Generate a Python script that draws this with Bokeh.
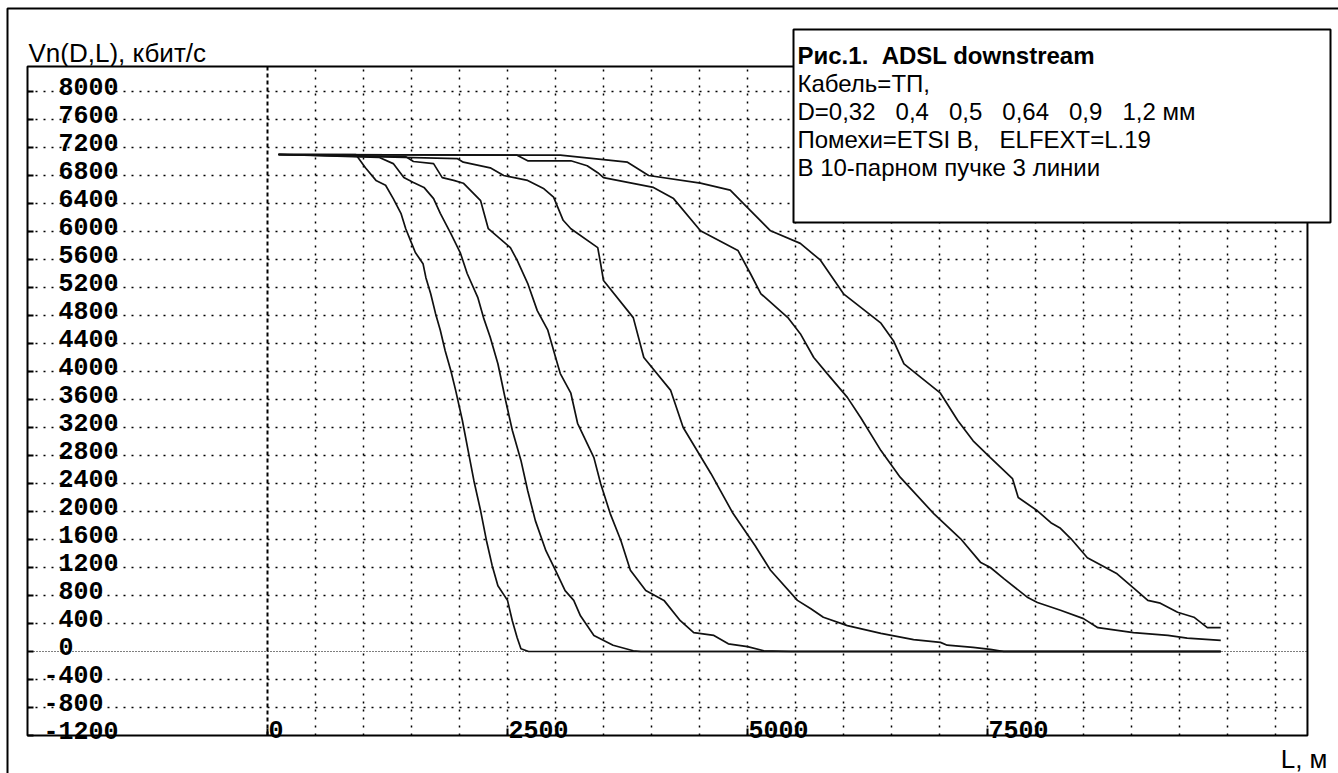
from bokeh.plotting import figure
from bokeh.models import Range1d, ColumnDataSource
from bokeh.core.properties import value
from bokeh.embed import file_html
from bokeh.resources import INLINE

# ---------------- data ----------------
DIAMETERS = ["0,32", "0,4", "0,5", "0,64", "0,9", "1,2"]

L_032 = [115, 920, 1020, 1130, 1230, 1310, 1390, 1440, 1490, 1540, 1620, 1650, 1700, 1750, 1800,
         1850, 1910, 1960, 2030, 2090, 2150, 2220, 2280, 2340, 2400, 2500, 2550, 2600, 2640, 2720, 9930]
V_032 = [7100, 7100, 6910, 6730, 6660, 6470, 6260, 6040, 5870, 5700, 5540, 5340, 5110, 4830, 4590,
         4300, 4010, 3730, 3300, 2870, 2440, 2010, 1590, 1230, 940, 730, 440, 200, 40, 0, 0]

L_040 = [115, 1160, 1310, 1420, 1520, 1630, 1730, 1800, 1910, 2010, 2080, 2190, 2250, 2320, 2400,
         2480, 2550, 2640, 2710, 2790, 2900, 3000, 3100, 3190, 3260, 3400, 3600, 3810, 3890, 9930]
V_040 = [7100, 7060, 6970, 6770, 6700, 6630, 6470, 6260, 5970, 5690, 5400, 5060, 4770, 4490, 4110,
         3590, 3160, 2730, 2300, 1870, 1440, 1160, 870, 730, 510, 230, 90, 10, 0, 0]

L_050 = [115, 1440, 1520, 1730, 1820, 1940, 2040, 2220, 2300, 2530, 2600, 2710, 2810, 2920, 3020,
         3050, 3160, 3230, 3400, 3470, 3570, 3680, 3780, 3940, 4130, 4300, 4440, 4650, 4800, 5000,
         5170, 5450, 9930]
V_050 = [7100, 7070, 7000, 6970, 6770, 6730, 6690, 6440, 6040, 5770, 5590, 5260, 4870, 4590, 4110,
         3970, 3690, 3260, 2770, 2400, 1970, 1590, 1160, 870, 730, 440, 270, 230, 110, 70,
         10, 0, 0]

L_064 = [115, 1980, 2040, 2320, 2460, 2710, 2880, 2980, 3080, 3160, 3440, 3470, 3500, 3810, 3920,
         4200, 4330, 4620, 4850, 5080, 5240, 5520, 5660, 5790, 6040, 6390, 6730, 7010, 7080, 7350,
         7530, 7670, 9930]
V_064 = [7100, 7040, 6990, 6910, 6800, 6730, 6610, 6490, 6160, 6040, 5770, 5540, 5300, 4770, 4200,
         3730, 3200, 2540, 1970, 1510, 1160, 730, 610, 490, 370, 260, 170, 130, 90, 60,
         30, 0, 0]

L_090 = [115, 2600, 2710, 3160, 3330, 3440, 3500, 4020, 4230, 4510, 4900, 5030, 5140, 5420, 5550,
         5690, 5830, 6040, 6180, 6390, 6590, 6940, 7220, 7430, 7530, 7670, 7920, 8020, 8260, 8500,
         8650, 9020, 9380, 9580, 9930]
V_090 = [7100, 7090, 7010, 7010, 6940, 6840, 6770, 6630, 6470, 6010, 5730, 5400, 5110, 4770, 4540,
         4200, 3970, 3630, 3340, 2870, 2490, 1970, 1610, 1270, 1200, 1040, 770, 700, 590, 470,
         340, 270, 230, 190, 160]

L_120 = [115, 3050, 3750, 3970, 4510, 4820, 5000, 5240, 5550, 5760, 6000, 6390, 6520, 6630, 7010,
         7190, 7350, 7530, 7760, 7820, 8020, 8160, 8260, 8370, 8540, 8850, 9020, 9170, 9300, 9480,
         9650, 9790, 9930]
V_120 = [7100, 7090, 6990, 6800, 6690, 6590, 6340, 6010, 5830, 5590, 5110, 4690, 4440, 4110, 3690,
         3300, 3010, 2770, 2470, 2200, 2010, 1840, 1760, 1610, 1340, 1110, 910, 730, 690, 560,
         490, 340, 340]

Y_TICKS = [-1200, -800, -400, 0, 400, 800, 1200, 1600, 2000, 2400, 2800, 3200, 3600,
           4000, 4400, 4800, 5200, 5600, 6000, 6400, 6800, 7200, 7600, 8000]
X_TICKS = [0, 2500, 5000, 7500]
X_GRID = [0, 500, 1000, 1500, 2000, 2500, 3000, 3500, 4000, 4500, 5000, 5500, 6000,
          6500, 7000, 7500, 8000, 8500, 9000, 9500, 10000, 10500]
X_LIMITS = (-2500, 10833)
Y_LIMITS = (-1200, 8357)

Y_TITLE = "Vn(D,L), кбит/с"
X_TITLE = "L, м"
NB = "\u00a0"
GAP = NB * 3
INFO_TITLE = "Рис.1." + NB + NB + "ADSL downstream"
INFO_LINES = [
    "Кабель=ТП,",
    "D=0,32" + GAP + "0,4" + GAP + "0,5" + GAP + "0,64" + GAP + "0,9" + GAP + "1,2 мм",
    "Помехи=ETSI B," + GAP + "ELFEXT=L.19",
    "В 10-парном пучке 3 линии",
]

# ---------------- layout ----------------
W, H = 1338, 773
SX, SY = 0.096, 0.07          # px per metre, px per kbit/s
ORIGIN_PX = (267, 651)        # canvas position of (0, 0)
xs = -ORIGIN_PX[0] / SX
ys = -(H - ORIGIN_PX[1]) / SY


def dx(px):
    return xs + px / SX


def dy(py):
    return ys + (H - py) / SY


p = figure(width=W, height=H,
           x_range=Range1d(xs, xs + W / SX), y_range=Range1d(ys, ys + H / SY),
           output_backend="svg", toolbar_location=None,
           x_axis_location=None, y_axis_location=None,
           min_border=0, outline_line_color=None,
           background_fill_color="white", border_fill_color="white")
p.xgrid.visible = False
p.ygrid.visible = False

INK = "black"
SANS = value("Liberation Sans")
MONO = value("Liberation Mono")
FS_TITLE = value("26px")
FS_BOX = value("24px")

# outer border (its right and bottom edges lie outside the picture)
p.quad(left=[dx(7)], right=[dx(1346)], top=[dy(8)], bottom=[dy(782)],
       fill_color=None, line_color=INK, line_width=2)

# grid
hy = [t for t in Y_TICKS if t not in (0, Y_LIMITS[0])]
p.segment(x0=[X_LIMITS[0]] * len(hy), x1=[X_LIMITS[1]] * len(hy), y0=hy, y1=hy,
          line_color=INK, line_width=1.5, line_dash="2 6")
vx = [t for t in X_GRID if t != 0]
p.segment(x0=vx, x1=vx, y0=[Y_LIMITS[0]] * len(vx), y1=[Y_LIMITS[1]] * len(vx),
          line_color=INK, line_width=1.5, line_dash="2 6")
p.segment(x0=[X_LIMITS[0]], x1=[X_LIMITS[1]], y0=[0], y1=[0],
          line_color=INK, line_width=1.2, line_dash="1 2")
p.segment(x0=[0], x1=[0], y0=[Y_LIMITS[0]], y1=[Y_LIMITS[1]],
          line_color=INK, line_width=2, line_dash="4 3")

# curves
for Ls, Vs in [(L_032, V_032), (L_040, V_040), (L_050, V_050),
               (L_064, V_064), (L_090, V_090), (L_120, V_120)]:
    p.line(Ls, Vs, line_color="#111111", line_width=1.7)

# plot frame
p.quad(left=[X_LIMITS[0]], right=[X_LIMITS[1]], bottom=[Y_LIMITS[0]], top=[Y_LIMITS[1]],
       fill_color=None, line_color=INK, line_width=2)

# ticks
p.ray(x=[X_LIMITS[0]] * len(Y_TICKS), y=Y_TICKS, length=6, length_units="screen",
      angle=0, line_color=INK, line_width=2)
p.ray(x=X_TICKS, y=[Y_LIMITS[0]] * len(X_TICKS), length=7, length_units="screen",
      angle=1.5708, line_color=INK, line_width=2)

# tick labels
ysrc = ColumnDataSource(dict(
    x=[X_LIMITS[0]] * len(Y_TICKS), y=Y_TICKS, t=[str(v) for v in Y_TICKS],
    xo=[31 if v >= 0 else 16 for v in Y_TICKS]))
p.text(x="x", y="y", text="t", x_offset="xo", y_offset=-5, source=ysrc,
       text_font=MONO, text_font_style="bold", text_font_size=value("25px"),
       text_align="left", text_baseline="alphabetic", text_color=INK)
xsrc = ColumnDataSource(dict(x=X_TICKS, y=[Y_LIMITS[0]] * len(X_TICKS),
                             t=[str(v) for v in X_TICKS]))
p.text(x="x", y="y", text="t", x_offset=1, y_offset=-6, source=xsrc,
       text_font=MONO, text_font_style="bold", text_font_size=value("25px"),
       text_align="left", text_baseline="alphabetic", text_color=INK)

# axis titles
p.text(x=[X_LIMITS[0]], y=[Y_LIMITS[1]], text=[Y_TITLE], x_offset=1, y_offset=-14,
       text_font=SANS, text_font_size=FS_TITLE, text_align="left",
       text_baseline="alphabetic", text_color=INK)
p.text(x=[X_LIMITS[1]], y=[Y_LIMITS[0]], text=[X_TITLE], x_offset=20, y_offset=23,
       text_font=SANS, text_font_size=FS_TITLE, text_align="right",
       text_baseline="alphabetic", text_color=INK)

# info box
bl, br, bt, bb = dx(793), dx(1330), dy(29), dy(222)
p.quad(left=[bl], right=[br], top=[bt], bottom=[bb],
       fill_color="white", line_color=INK, line_width=2)
p.text(x=[bl], y=[bt], text=[INFO_TITLE], x_offset=4, y_offset=26,
       text_font=SANS, text_font_style="bold", text_font_size=FS_BOX,
       text_align="left", text_baseline="alphabetic", text_color=INK)
p.text(x=[bl] * len(INFO_LINES), y=[bt] * len(INFO_LINES), text=INFO_LINES,
       x_offset=4, y_offset=[54 + 28 * i for i in range(len(INFO_LINES))],
       text_font=SANS, text_font_size=FS_BOX,
       text_align="left", text_baseline="alphabetic", text_color=INK)

open("out.html", "w").write(file_html(p, INLINE))
